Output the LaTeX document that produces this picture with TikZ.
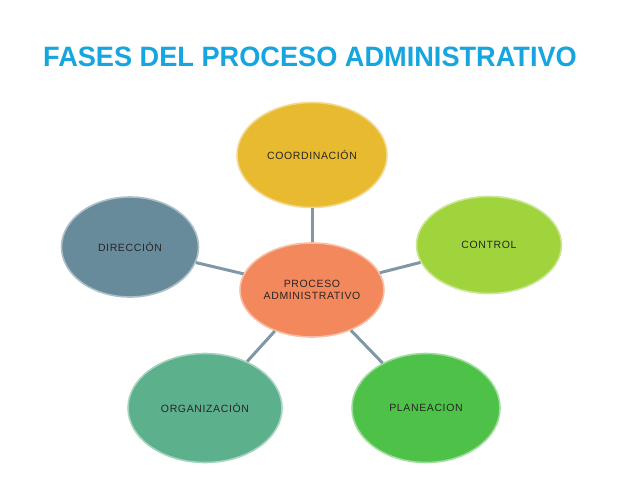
\documentclass[tikz,border=0pt]{standalone}
\usepackage{fontspec}
\setmainfont{Liberation Sans}
\newfontfamily\titlefont[FakeStretch=0.97]{Liberation Sans}
\newfontfamily\etiqfont[LetterSpace=6]{Liberation Sans}
\usepackage{tikz}
\usetikzlibrary{shapes.geometric,positioning}

\definecolor{titleblue}{RGB}{22,165,222}
\definecolor{linkgray}{RGB}{128,152,166}
\definecolor{coordgold}{RGB}{232,186,48}
\definecolor{procorange}{RGB}{243,136,92}
\definecolor{dirslate}{RGB}{104,139,155}
\definecolor{ctrllime}{RGB}{160,212,60}
\definecolor{orgteal}{RGB}{92,176,140}
\definecolor{planegreen}{RGB}{78,194,72}

\tikzset{
  fase/.style={ellipse, inner sep=0pt, line width=1.6pt,
    font=\etiqfont\fontsize{10.5}{11.5}\selectfont, text=black!85,
    align=center},
  enlace/.style={linkgray, line width=3pt},
}

\begin{document}
\begin{tikzpicture}[x=1pt, y=-1pt]
			\useasboundingbox (0,0) rectangle (638,479);
			\node[font=\titlefont\bfseries\fontsize{28}{30}\selectfont, text=titleblue] (titulo) at (310,57) {FASES DEL PROCESO ADMINISTRATIVO};
			%
			\node[fase, minimum width=144pt, minimum height=94pt, fill=procorange, draw=procorange!55!white] (proc) at (312,290) {PROCESO\\ADMINISTRATIVO};
			\node[fase, minimum width=150pt, minimum height=105pt, fill=coordgold, draw=coordgold!55!white] (coord) at (312,155) {COORDINACIÓN};
			\node[fase, minimum width=145pt, minimum height=97pt, fill=ctrllime, draw=ctrllime!55!white] (ctrl) at (489,245) {CONTROL};
			\node[fase, minimum width=137pt, minimum height=100pt, fill=dirslate, draw=dirslate!55!white] (dir) at (130,247) {DIRECCIÓN};
			\node[fase, minimum width=154pt, minimum height=109pt, fill=orgteal, draw=orgteal!55!white] (org) at (205,408) {ORGANIZACIÓN};
			\node[fase, minimum width=148pt, minimum height=109pt, fill=planegreen, draw=planegreen!55!white] (plan) at (426,408) {PLANEACION};
			%
			\draw[enlace] (proc) -- (coord);
			\draw[enlace] (proc) -- (ctrl);
			\draw[enlace] (proc) -- (dir);
			\draw[enlace] (proc) -- (org);
			\draw[enlace] (proc) -- (plan);
\end{tikzpicture}
\end{document}
